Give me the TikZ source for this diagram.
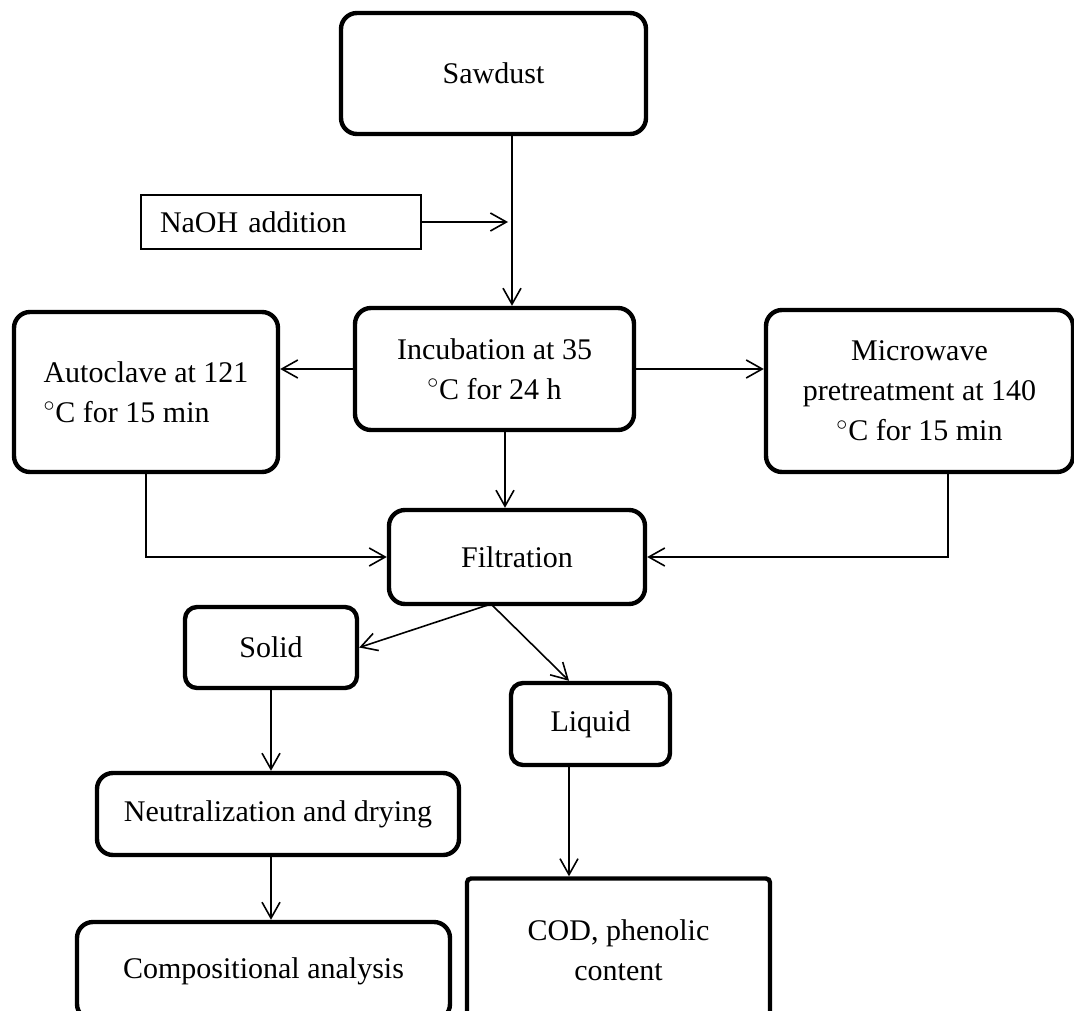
\documentclass[tikz,border=0pt]{standalone}
\usepackage{fontspec}
\setmainfont{Liberation Serif}
\usetikzlibrary{arrows.meta}
\usetikzlibrary{calc}

\begin{document}
\begin{tikzpicture}[x=0.5pt,y=-0.5pt,
  every node/.style={font=\fontsize{15pt}{20pt}\selectfont},
  box/.style={shape=rectangle,draw,line width=2.2pt,rounded corners=8pt,align=center,inner sep=0pt},
  thinbox/.style={shape=rectangle,draw,line width=1pt,inner sep=0pt},
  arr/.style={line width=0.8pt,-{Straight Barb[length=8pt,width=9pt,line width=0.8pt]}}]
\useasboundingbox (0,0) rectangle (1074,1010);
\clip (0,0) rectangle (1074,1010);
\draw (493.5,73.5) node (saw) [box,minimum width=152.5pt,minimum height=60.5pt] {Sawdust};
\draw (281,222) node (naoh) [thinbox,minimum width=140pt,minimum height=27pt,text width=121pt,align=left] {NaOH addition};
\draw (494.5,369) node (incub) [box,minimum width=139.5pt,minimum height=61pt] {Incubation at 35\\$^{\circ}$C for 24 h};
\draw (146,392) node (auto) [box,minimum width=132pt,minimum height=80pt,align=left] {Autoclave at 121\\$^{\circ}$C for 15 min};
\draw (919.5,391) node (micro) [box,minimum width=153.5pt,minimum height=81pt] {Microwave\\pretreatment at 140\\$^{\circ}$C for 15 min};
\draw (517,557) node (filt) [box,minimum width=128pt,minimum height=47pt] {Filtration};
\draw (271,647.5) node (solid) [box,rounded corners=6pt,minimum width=86pt,minimum height=40.5pt] {Solid};
\draw (590.5,724) node (liquid) [box,rounded corners=6pt,minimum width=79.5pt,minimum height=41pt] {Liquid};
\draw (278,814) node (neut) [box,minimum width=181pt,minimum height=41pt] {Neutralization and drying};
\draw (263.5,971) node (comp) [box,minimum width=186.5pt,minimum height=49pt] {Compositional analysis};
\draw (618.5,950) node (cod) [box,rounded corners=2pt,minimum width=151.5pt,minimum height=71.5pt] {COD, phenolic\\content};
\coordinate (join) at (512,222);
\coordinate (down) at (505,0);
\coordinate (mw) at (948,0);
\coordinate (split) at (491,604);
\coordinate (lq) at (569,0);
\draw[arr] (saw.south -| join) -- (incub.north -| join);
\draw[arr,shorten >=2pt] (naoh.east) -- (join);
\draw[arr] (incub.west) -- (incub.west -| auto.east);
\draw[arr] (incub.east) -- (incub.east -| micro.west);
\draw[arr] (incub.south -| down) -- (filt.north -| down);
\draw[arr] (auto.south) |- (filt.west);
\draw[arr] (micro.south -| mw) |- (filt.east);
\draw[arr] (split) -- (solid.east);
\draw[arr] (split) -- (liquid.north -| lq);
\draw[arr] (solid.south) -- (solid.south |- neut.north);
\draw[arr] (neut.south -| solid.south) -- (comp.north -| solid.south);
\draw[arr] (liquid.south -| lq) -- (cod.north -| lq);
\end{tikzpicture}
\end{document}
